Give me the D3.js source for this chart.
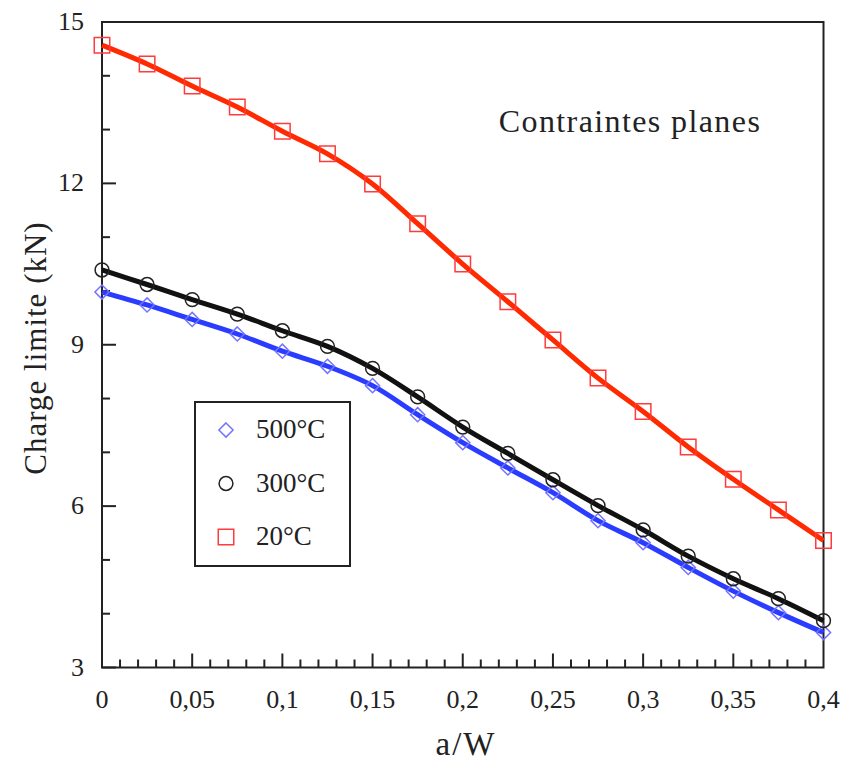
<!DOCTYPE html>
<html>
<head>
<meta charset="utf-8">
<script src="https://cdn.jsdelivr.net/npm/d3@7"></script>
<style>
  body { margin: 0; background: #fff; }
  text { font-family: "Liberation Serif", "DejaVu Serif", serif; fill: #222; }
</style>
</head>
<body>
<svg width="845" height="763"></svg>
<script>
// a/W values
const aw = [0, 0.025, 0.05, 0.075, 0.1, 0.125, 0.15, 0.175, 0.2, 0.225, 0.25, 0.275, 0.3, 0.325, 0.35, 0.375, 0.4];
// charge limite (kN)
const t20 = [14.57, 14.22, 13.81, 13.42, 12.97, 12.55, 11.99, 11.25, 10.50, 9.80, 9.09, 8.38, 7.76, 7.10, 6.50, 5.93, 5.36];
const t300 = [10.39, 10.12, 9.84, 9.57, 9.26, 8.97, 8.56, 8.03, 7.47, 6.98, 6.49, 6.01, 5.56, 5.07, 4.65, 4.28, 3.87];
const t500 = [9.98, 9.74, 9.47, 9.20, 8.88, 8.60, 8.24, 7.70, 7.18, 6.71, 6.25, 5.73, 5.32, 4.86, 4.42, 4.02, 3.65];
const legendLabels = ['500°C', '300°C', '20°C'];
const yTicks = [3, 6, 9, 12, 15];
const xTicks = [0, 0.05, 0.1, 0.15, 0.2, 0.25, 0.3, 0.35, 0.4];

const svg = d3.select('svg');
const scX = d3.scaleLinear().domain([0, 0.4]).range([102, 823.5]);
const scY = d3.scaleLinear().domain([3, 15]).range([667.5, 22]);
const fmt = d => String(+d.toFixed(2)).replace('.', ',');

// frame
svg.append('rect')
  .attr('x', scX(0)).attr('y', scY(15))
  .attr('width', scX(0.4) - scX(0)).attr('height', scY(3) - scY(15))
  .attr('fill', 'none').attr('stroke', '#222').attr('stroke-width', 2);

// y ticks (inward)
const gy = svg.append('g');
gy.selectAll('line').data(d3.range(3, 15.01, 1)).enter()
  .append('line')
  .attr('x1', scX(0)).attr('x2', d => scX(0) + (d % 3 === 0 ? 14 : 8))
  .attr('y1', d => scY(d)).attr('y2', d => scY(d))
  .attr('stroke', '#222').attr('stroke-width', 2);
gy.selectAll('text').data(yTicks).enter()
  .append('text')
  .attr('x', 84).attr('y', d => scY(d) + 8)
  .attr('text-anchor', 'end').attr('font-size', 26)
  .text(d => d);

// x ticks (inward)
const gx = svg.append('g');
gx.selectAll('line').data(d3.range(1, 40)).enter()
  .append('line')
  .attr('x1', d => scX(d / 100)).attr('x2', d => scX(d / 100))
  .attr('y1', scY(3)).attr('y2', d => scY(3) - (d % 5 === 0 ? 14 : 8))
  .attr('stroke', '#222').attr('stroke-width', 2);
gx.selectAll('text').data(xTicks).enter()
  .append('text')
  .attr('x', d => scX(d)).attr('y', 708)
  .attr('text-anchor', 'middle').attr('font-size', 26)
  .text(fmt);

// axis titles
svg.append('text')
  .attr('x', 466).attr('y', 755)
  .attr('text-anchor', 'middle').attr('font-size', 33).attr('letter-spacing', 2)
  .text('a/W');
svg.append('text')
  .attr('transform', 'translate(46,348) rotate(-90)')
  .attr('text-anchor', 'middle').attr('font-size', 31).attr('letter-spacing', 1)
  .text('Charge limite (kN)');
svg.append('text')
  .attr('x', 630).attr('y', 132)
  .attr('text-anchor', 'middle').attr('font-size', 32).attr('letter-spacing', 1.4)
  .text('Contraintes planes');

// rotated square for the diamond markers
const diamond = {
  draw(ctx, size) {
    const r = Math.sqrt(size / 2);
    ctx.moveTo(0, -r); ctx.lineTo(r, 0); ctx.lineTo(0, r); ctx.lineTo(-r, 0); ctx.closePath();
  }
};

// series
const series = [
  { vals: t500, line: '#2a3cff', mark: '#7373ff', sym: diamond, size: 100 },
  { vals: t300, line: '#111', mark: '#222', sym: d3.symbolCircle, size: 150 },
  { vals: t20, line: '#ff2a00', mark: '#ff3b3b', sym: d3.symbolSquare, size: 240 }
];
const lnMkr = d3.line().curve(d3.curveCatmullRom)
  .x(d => scX(d[0])).y(d => scY(d[1]));

series.forEach(s => {
  const pts = aw.map((x, i) => [x, s.vals[i]]);
  const g = svg.append('g');
  g.append('path').attr('d', lnMkr(pts))
    .attr('fill', 'none').attr('stroke', s.line).attr('stroke-width', 5);
  g.selectAll('path.m').data(pts).enter()
    .append('path').attr('class', 'm')
    .attr('transform', d => 'translate(' + scX(d[0]) + ',' + scY(d[1]) + ')')
    .attr('d', d3.symbol().type(s.sym).size(s.size))
    .attr('fill', 'none').attr('stroke', s.mark).attr('stroke-width', 1.5);
});

// legend
const lg = svg.append('g');
lg.append('rect').attr('x', 195).attr('y', 402).attr('width', 155).attr('height', 164)
  .attr('fill', '#fff').attr('stroke', '#222').attr('stroke-width', 2);
const ly = d3.scalePoint().domain(legendLabels).range([430, 537]);
legendLabels.forEach((lab, i) => {
  lg.append('path')
    .attr('transform', 'translate(226,' + ly(lab) + ')')
    .attr('d', d3.symbol().type(series[i].sym).size(series[i].size))
    .attr('fill', 'none').attr('stroke', series[i].mark).attr('stroke-width', 1.5);
  lg.append('text').attr('x', 256).attr('y', ly(lab) + 8)
    .attr('font-size', 27).text(lab);
});
</script>
</body>
</html>
